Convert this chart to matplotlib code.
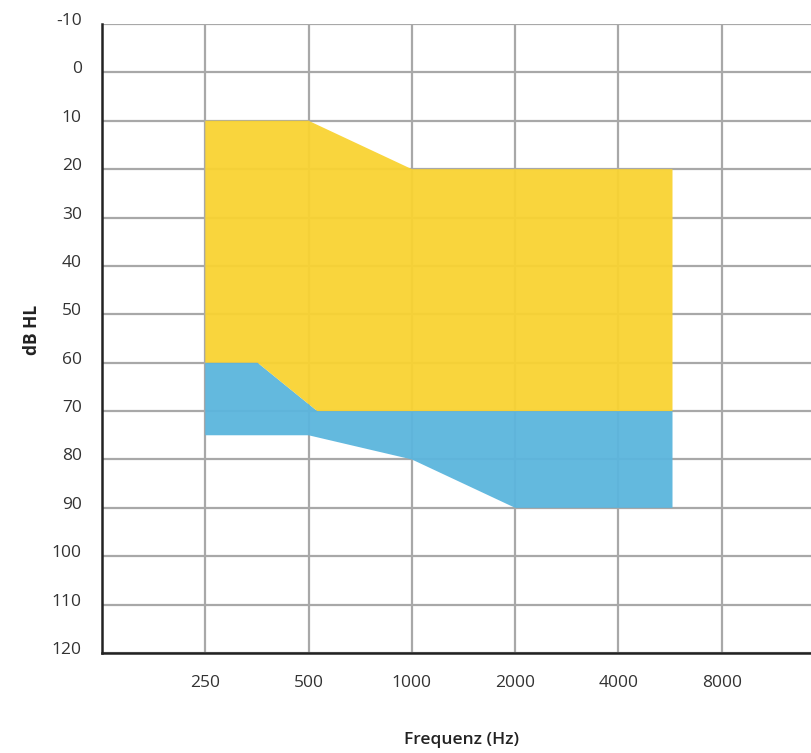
import matplotlib
matplotlib.use("Agg")
import matplotlib.pyplot as plt
import matplotlib.transforms as mtransforms
import numpy as np

# Data
freq_ticks = [250, 500, 1000, 2000, 4000, 8000]
freq_tick_labels = ["250", "500", "1000", "2000", "4000", "8000"]
db_ticks = [-10, 0, 10, 20, 30, 40, 50, 60, 70, 80, 90, 100, 110, 120]

# yellow zone (upper and lower bound)
yellow_upper_f = [250, 500, 1000, 5750]
yellow_upper_db = [10, 10, 20, 20]
yellow_lower_f = [250, 355, 530, 5750]
yellow_lower_db = [60, 60, 70, 70]

# blue zone (upper and lower bound)
blue_upper_f = [250, 355, 530, 5750]
blue_upper_db = [60, 60, 70, 70]
blue_lower_f = [250, 500, 1000, 2000, 5750]
blue_lower_db = [75, 75, 80, 90, 90]

plt.rcParams['font.family'] = ['Open Sans', 'DejaVu Sans']

fig = plt.figure(figsize=(8.12, 7.53), dpi=100)
W, H = 812, 753
x0, x1 = 102, 825
y_top, y_bot = 24, 653
ax = fig.add_axes([x0 / W, 1 - y_bot / H, (x1 - x0) / W, (y_bot - y_top) / H])

ax.set_xscale('log', base=2)
ax.set_xlim(125, 16000)
ax.set_ylim(120, -10)


def poly(uf, ud, lf, ld):
    xs = list(uf) + list(lf[::-1])
    ys = list(ud) + list(ld[::-1])
    return xs, ys

bx, by = poly(blue_upper_f, blue_upper_db, blue_lower_f, blue_lower_db)
ax.fill(bx, by, color="#5BB5DD", alpha=0.95, lw=0, zorder=3)
yx, yy = poly(yellow_upper_f, yellow_upper_db, yellow_lower_f, yellow_lower_db)
ax.fill(yx, yy, color="#F9D332", alpha=0.95, lw=0, zorder=3)

ax.set_xticks(freq_ticks)
ax.set_xticklabels(freq_tick_labels)
ax.xaxis.set_minor_locator(matplotlib.ticker.NullLocator())
ax.set_yticks(db_ticks)
ax.set_yticklabels([str(v) for v in db_ticks])

ax.grid(True, which='major', color='#a8a8a8', lw=1.6, zorder=1)
ax.set_axisbelow(True)
for s in ['top', 'right']:
    ax.spines[s].set_visible(False)
ax.spines['left'].set_color('#222222')
ax.spines['left'].set_linewidth(1.8)
ax.spines['bottom'].set_color('#222222')
ax.spines['bottom'].set_linewidth(1.8)
ax.spines['left'].set_zorder(5)
ax.spines['bottom'].set_zorder(5)

ax.tick_params(axis='both', length=0, labelsize=12.5, labelcolor='#333333')
ax.tick_params(axis='y', pad=14.5)
ax.tick_params(axis='x', pad=16)
# shift y tick labels slightly upward
off = mtransforms.ScaledTranslation(0, 5 / 100, fig.dpi_scale_trans)
for lbl in ax.get_yticklabels():
    lbl.set_transform(lbl.get_transform() + off)
    lbl.set_horizontalalignment('right')

fig.text(32 / W, 1 - 330 / H, "dB HL", rotation=90, ha='center', va='center',
         fontsize=12.5, fontweight='bold', color='#222222')
fig.text(462 / W, 1 - 740 / H, "Frequenz (Hz)", ha='center', va='center',
         fontsize=12.5, fontweight='semibold', color='#222222')

fig.savefig("out.png", dpi=100)
